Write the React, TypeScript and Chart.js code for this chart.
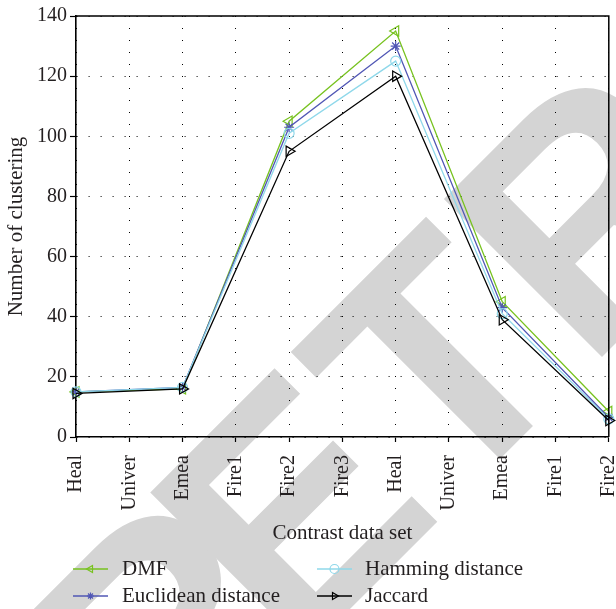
import React, { useEffect, useRef } from 'react';
import { Chart, registerables } from 'chart.js';
import { drawPoint } from 'chart.js/helpers';

Chart.register(...registerables);

// ---- data ----
const categories = ['Heal', 'Univer', 'Emea', 'Fire1', 'Fire2', 'Fire3', 'Heal', 'Univer', 'Emea', 'Fire1', 'Fire2'];
const pointPositions = [0, 2, 4, 6, 8, 10];
const dmfValues = [15, 16, 105, 135, 45, 8.5];
const euclideanValues = [15, 16.5, 103, 130, 43, 6.5];
const hammingValues = [15, 16.5, 101, 125, 41, 6];
const jaccardValues = [14.5, 16, 95, 120, 39, 5.5];
const seriesNames = ['DMF', 'Euclidean distance', 'Hamming distance', 'Jaccard'];
const yMin = 0;
const yMax = 140;
const yStep = 20;
const xTitle = 'Contrast data set';
const yTitle = 'Number of clustering';
const watermarkFirst = 'R';
const watermarkRest = 'ETRACTED';

const SERIF = '"Liberation Serif", "DejaVu Serif", serif';
const colors = ['#77c21f', '#5157b5', '#8fd8ea', '#000000'];
const styles = [
  { pointStyle: 'triangle', rotation: -90, radius: 6, legendRadius: 4 },
  { pointStyle: 'star', rotation: 0, radius: 5, legendRadius: 3.5 },
  { pointStyle: 'circle', rotation: 0, radius: 5, legendRadius: 4.5 },
  { pointStyle: 'triangle', rotation: 90, radius: 6, legendRadius: 4 },
];

const spread = (vals: number[]) =>
  categories.map((_, i) => {
    const k = pointPositions.indexOf(i);
    return k >= 0 ? vals[k] : null;
  });

const watermarkPlugin = {
  id: 'watermark',
  beforeDraw(chart: any) {
    const ctx = chart.ctx;
    ctx.save();
    ctx.translate(127, 832);
    ctx.rotate(-Math.PI / 4);
    ctx.fillStyle = '#d4d4d4';
    ctx.font = 'bold 325px "Liberation Sans", Arial, sans-serif';
    ctx.textBaseline = 'alphabetic';
    ctx.textAlign = 'left';
    const rWidth = ctx.measureText(watermarkFirst).width;
    ctx.fillText(watermarkFirst, 45, 0);
    ctx.fillText(watermarkRest, rWidth, 0);
    ctx.restore();
  },
};

const framePlugin = {
  id: 'frame',
  afterDraw(chart: any) {
    const { ctx, chartArea } = chart;
    ctx.save();
    ctx.strokeStyle = '#000';
    ctx.lineWidth = 1.5;
    ctx.beginPath();
    ctx.moveTo(chartArea.left, chartArea.top);
    ctx.lineTo(chartArea.right, chartArea.top);
    ctx.lineTo(chartArea.right, chartArea.bottom);
    ctx.stroke();
    ctx.restore();
  },
};

const legendPlugin = {
  id: 'customLegend',
  afterDraw(chart: any) {
    const ctx = chart.ctx;
    const cols = [
      { lineX0: 73, lineX1: 108, textX: 122 },
      { lineX0: 317, lineX1: 352, textX: 365 },
    ];
    const rows = [569, 596];
    const placement = [
      [0, 0],
      [0, 1],
      [1, 0],
      [1, 1],
    ];
    ctx.save();
    seriesNames.forEach((name, i) => {
      const [c, r] = placement[i];
      const col = cols[c];
      const y = rows[r];
      ctx.strokeStyle = colors[i];
      ctx.lineWidth = 1.3;
      ctx.setLineDash([]);
      ctx.beginPath();
      ctx.moveTo(col.lineX0, y);
      ctx.lineTo(col.lineX1, y);
      ctx.stroke();
      ctx.fillStyle = i === 1 ? colors[i] : 'rgba(0,0,0,0)';
      ctx.strokeStyle = colors[i];
      ctx.lineWidth = 1.2;
      drawPoint(
        ctx,
        {
          pointStyle: styles[i].pointStyle as any,
          rotation: styles[i].rotation,
          radius: styles[i].legendRadius,
          borderWidth: 1.2,
        } as any,
        (col.lineX0 + col.lineX1) / 2,
        y
      );
      ctx.fillStyle = '#231f20';
      ctx.font = `21px ${SERIF}`;
      ctx.textBaseline = 'middle';
      ctx.textAlign = 'left';
      ctx.fillText(name, col.textX, y);
    });
    ctx.restore();
  },
};

export default function App() {
  const canvasRef = useRef<HTMLCanvasElement | null>(null);

  useEffect(() => {
    document.body.style.margin = '0';
    const canvas = canvasRef.current;
    if (!canvas) return;
    const allValues = [dmfValues, euclideanValues, hammingValues, jaccardValues];
    const chart = new Chart(canvas, {
      type: 'line',
      data: {
        labels: categories,
        datasets: allValues.map((vals, i) => ({
          label: seriesNames[i],
          data: spread(vals),
          borderColor: colors[i],
          backgroundColor: 'rgba(0,0,0,0)',
          pointBackgroundColor: 'rgba(0,0,0,0)',
          pointBorderColor: colors[i],
          pointStyle: styles[i].pointStyle as any,
          pointRotation: styles[i].rotation,
          pointRadius: styles[i].radius,
          pointBorderWidth: 1.2,
          borderWidth: 1.3,
          spanGaps: true,
          tension: 0,
          clip: false as any,
          order: 4 - i,
        })),
      },
      options: {
        animation: false,
        responsive: false,
        devicePixelRatio: 1,
        layout: { padding: { left: 0, right: 6.5, top: 16, bottom: 59 } },
        plugins: {
          legend: { display: false },
          tooltip: { enabled: false },
        },
        scales: {
          x: {
            type: 'category',
            offset: false,
            grid: {
              color: '#000',
              lineWidth: 1,
              drawTicks: true,
              tickLength: 5,
              tickColor: '#000',
              tickWidth: 1.2,
              tickBorderDash: [],
            },
            border: { display: true, color: '#000', width: 1.6, dash: [1, 11] },
            ticks: {
              autoSkip: false,
              minRotation: 90,
              maxRotation: 90,
              padding: 13,
              color: '#231f20',
              font: { family: SERIF, size: 20 },
            },
            title: {
              display: true,
              text: xTitle,
              color: '#231f20',
              font: { family: SERIF, size: 21 },
              padding: { top: 4, bottom: 4 },
            },
            afterFit(scale: any) {
              scale.height = 113;
              scale.paddingLeft = 0;
              scale.paddingRight = 0;
            },
          },
          y: {
            min: yMin,
            max: yMax,
            grid: {
              color: '#000',
              lineWidth: 1,
              drawTicks: true,
              tickLength: 6,
              tickColor: '#000',
              tickWidth: 1.2,
              tickBorderDash: [],
            },
            border: { display: true, color: '#000', width: 1.6, dash: [1, 11] },
            ticks: {
              stepSize: yStep,
              padding: 3,
              color: '#231f20',
              font: { family: SERIF, size: 20 },
            },
            title: {
              display: true,
              text: yTitle,
              color: '#231f20',
              font: { family: SERIF, size: 21 },
              padding: { top: 4, bottom: 4 },
            },
            afterFit(scale: any) {
              scale.width = 76;
              scale.paddingTop = 0;
              scale.paddingBottom = 0;
            },
          },
        },
      },
      plugins: [watermarkPlugin, framePlugin, legendPlugin],
    });
    return () => chart.destroy();
  }, []);

  return (
    <div style={{ width: 616, height: 609 }}>
      <canvas ref={canvasRef} width={616} height={609} style={{ display: 'block' }} />
    </div>
  );
}
